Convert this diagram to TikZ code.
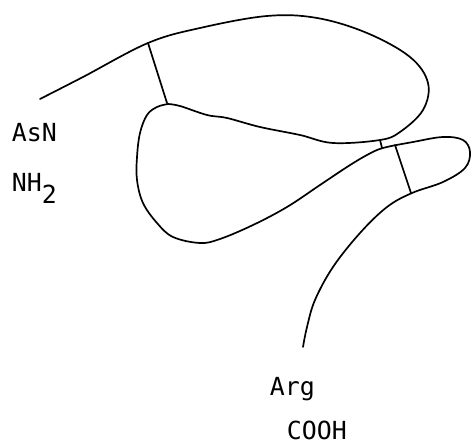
\documentclass[tikz,border=0pt]{standalone}
\usepackage{fontspec}
\newfontfamily\labelfont{DejaVu Sans Mono}
\begin{document}
\begin{tikzpicture}[scale=0.3528,line width=1.7pt,line join=round,line cap=round,
    lbl/.style={anchor=base west,inner sep=0pt,font=\labelfont\fontsize{25}{27}\selectfont}]
    \useasboundingbox (0,0) rectangle (47.2,44.4);
    % upper loop, from the free N-terminal end round to the junction
    \draw plot[smooth,tension=0.6] coordinates {(4.0,34.5) (8.3,36.7) (14.8,40.1) (20.0,41.6)
      (26.7,42.8) (31.7,42.6) (36.7,41.1) (41.0,38.7) (42.8,36.1) (42.3,33.4)
      (40.0,31.2) (38.0,30.4) (33.3,30.1) (30.0,30.9) (26.0,31.7) (22.7,32.6)
      (20.7,32.9) (18.0,33.8) (16.8,34.0)};
    % lower loop, small loop and the tail down to the C-terminus
    \draw plot[smooth,tension=0.6] coordinates {(16.8,34.0) (15.7,33.7) (14.7,32.9) (14.0,31.1)
      (13.7,28.7) (13.7,26.4) (14.3,24.1) (15.7,22.1) (17.3,20.7) (20.0,20.1)
      (22.0,20.5) (25.3,21.9) (28.7,23.7) (32.0,25.9) (34.7,27.7) (36.7,28.9)
      (38.3,29.6) (41.3,30.2) (44.3,30.7) (46.3,30.4) (47.0,29.2) (46.5,27.6)
      (44.3,26.2) (41.2,25.1) (38.7,23.7) (36.0,21.1) (33.3,17.7) (31.5,14.4)
      (30.7,11.7) (30.3,9.7)};
    % disulfide bridges
    \coordinate (s1a) at (14.8,40.1);
    \coordinate (s1b) at (16.7,34.1);
    \coordinate (s2a) at (38.0,30.4);
    \coordinate (s2b) at (38.2,29.6);
    \coordinate (s3a) at (39.5,29.9);
    \coordinate (s3b) at (41.1,25.1);
    \draw (s1a) -- (s1b);
    \draw (s2a) -- (s2b);
    \draw (s3a) -- (s3b);
    \node[lbl] (asn) at (1.1,30.2) {AsN};
    \node[lbl] (nh) at (1.1,25.2) {NH\raisebox{-12bp}{2}};
    \node[lbl] (arg) at (26.9,4.9) {Arg};
    \node[lbl] (cooh) at (28.6,0.5) {COOH};
\end{tikzpicture}
\end{document}
